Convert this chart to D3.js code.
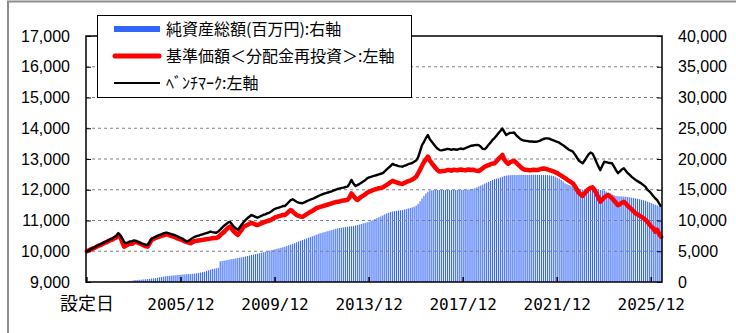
<!DOCTYPE html>
<html>
<head>
<meta charset="utf-8">
<script src="https://cdn.jsdelivr.net/npm/d3@7"></script>
<style>
  html, body { margin: 0; padding: 0; background: #fff; }
  svg { display: block; }
</style>
</head>
<body>
<svg id="chart" width="736" height="333"></svg>
<script>
// First month of the series (設定日) and the labelled x-axis months
const startYear = 2001, startMonth = 12;
const tickMonths = ["2001/12", "2005/12", "2009/12", "2013/12", "2017/12", "2021/12", "2025/12"];
const tickLabels = ["設定日", "2005/12", "2009/12", "2013/12", "2017/12", "2021/12", "2025/12"];
const leftTicks = [9000, 10000, 11000, 12000, 13000, 14000, 15000, 16000, 17000];
const rightTicks = [0, 5000, 10000, 15000, 20000, 25000, 30000, 35000, 40000];

// 基準価額<分配金再投資> (円), monthly
const navValues = [
  10000,
  10030,10060,10090,10110,10150,10180,10200,10240,10270,10290,10330,10360,
  10380,10420,10450,10530,10470,10300,10150,10180,10220,10250,10240,10280,
  10310,10280,10250,10220,10190,10160,10150,10260,10370,10400,10430,10460,
  10480,10500,10520,10540,10550,10520,10500,10480,10460,10420,10400,10380,
  10350,10320,10300,10280,10260,10300,10330,10340,10350,10360,10370,10380,
  10390,10400,10410,10420,10430,10430,10460,10520,10580,10630,10700,10760,
  10800,10720,10640,10580,10530,10620,10700,10800,10830,10860,10900,10920,
  10900,10870,10850,10880,10910,10930,10960,10980,11000,11020,11060,11100,
  11120,11140,11160,11180,11180,11230,11290,11340,11290,11230,11180,11150,
  11130,11120,11160,11200,11240,11280,11310,11350,11400,11420,11440,11460,
  11480,11500,11520,11540,11560,11580,11600,11610,11620,11640,11650,11660,
  11670,11750,11880,11800,11720,11670,11720,11770,11810,11850,11900,11940,
  11960,11990,12010,12030,12050,12060,12080,12120,12160,12200,12250,12290,
  12260,12240,12220,12200,12190,12220,12250,12280,12300,12330,12370,12420,
  12530,12650,12780,12900,12990,13080,12950,12860,12780,12700,12630,12590,
  12600,12610,12620,12640,12640,12620,12650,12640,12630,12650,12660,12640,
  12630,12650,12660,12640,12650,12630,12620,12610,12650,12700,12750,12780,
  12800,12830,12850,12860,12920,13000,13060,13130,12980,12900,12840,12900,
  12920,12940,12880,12820,12760,12700,12660,12650,12640,12630,12640,12650,
  12640,12640,12660,12680,12690,12680,12660,12640,12620,12600,12570,12540,
  12500,12460,12420,12380,12330,12290,12250,12210,12120,12010,11900,11850,
  11800,11880,11960,12020,12060,12080,12000,11880,11740,11610,11680,11750,
  11800,11830,11780,11720,11650,11570,11500,11530,11580,11610,11550,11480,
  11420,11360,11300,11230,11200,11160,11120,11070,11020,10960,10880,10800,
  10750,10640,10700,10560,10470
];

// ベンチマーク, monthly
const benchmarkValues = [
  10000,
  10030,10070,10100,10130,10170,10200,10230,10260,10300,10330,10360,10400,
  10420,10460,10500,10590,10520,10420,10300,10260,10290,10320,10330,10350,
  10330,10300,10280,10250,10230,10210,10200,10300,10410,10440,10470,10500,
  10530,10550,10580,10600,10600,10580,10560,10540,10520,10490,10460,10430,
  10400,10350,10310,10350,10390,10430,10470,10490,10510,10530,10550,10570,
  10590,10610,10640,10620,10610,10600,10640,10700,10770,10830,10880,10930,
  10960,10880,10800,10740,10690,10780,10870,10950,11020,11080,11130,11180,
  11150,11120,11090,11120,11150,11180,11200,11230,11250,11290,11340,11380,
  11400,11420,11440,11470,11470,11530,11600,11660,11690,11650,11610,11580,
  11570,11560,11590,11620,11650,11680,11700,11730,11760,11790,11820,11850,
  11870,11890,11910,11930,11950,11980,12000,12030,12040,12060,12070,12090,
  12100,12200,12320,12200,12120,12150,12190,12230,12270,12310,12370,12400,
  12420,12440,12460,12480,12500,12520,12540,12600,12660,12720,12780,12840,
  12810,12790,12770,12760,12750,12780,12800,12830,12850,12870,12910,12950,
  13050,13250,13450,13560,13680,13780,13640,13560,13480,13400,13330,13290,
  13280,13300,13310,13330,13320,13300,13320,13310,13300,13330,13340,13320,
  13350,13380,13400,13430,13440,13450,13460,13450,13400,13330,13320,13380,
  13460,13540,13620,13680,13760,13840,13910,13990,13880,13780,13820,13850,
  13850,13860,13780,13720,13660,13620,13600,13590,13580,13570,13570,13560,
  13560,13570,13590,13620,13650,13670,13670,13660,13630,13610,13580,13560,
  13530,13490,13450,13400,13350,13300,13270,13240,13150,13050,12950,12900,
  12860,12950,13050,13150,13210,13180,13050,12900,12760,12640,12780,12910,
  12900,12880,12870,12860,12750,12640,12540,12600,12660,12700,12620,12540,
  12480,12420,12370,12320,12280,12240,12200,12150,12100,12000,11950,11880,
  11800,11720,11660,11560,11450
];

// 純資産総額 (百万円), monthly
const netAssets = [
  10,
  15,20,25,30,35,40,45,50,55,60,65,70,
  75,80,85,90,95,100,110,120,130,150,200,300,
  320,340,360,390,420,450,480,520,560,600,650,700,
  760,820,880,930,975,1000,1030,1060,1090,1120,1150,1180,
  1210,1240,1270,1290,1300,1340,1380,1430,1480,1540,1600,1660,
  1780,1900,2000,2100,2170,2230,2300,3350,3420,3480,3540,3600,
  3660,3720,3780,3840,3900,3960,4020,4090,4160,4230,4310,4390,
  4450,4520,4600,4680,4760,4840,4920,5000,5080,5160,5240,5320,
  5400,5480,5560,5650,5740,5850,5960,6080,6200,6330,6460,6590,
  6710,6830,6950,7070,7190,7310,7430,7550,7680,7800,7920,8010,
  8100,8190,8280,8370,8460,8550,8640,8730,8780,8830,8880,8930,
  8980,9030,9060,9100,9180,9260,9340,9430,9520,9610,9700,9800,
  9930,10080,10230,10380,10530,10680,10830,11000,11170,11280,11380,11460,
  11520,11570,11620,11660,11700,11780,11860,11950,12040,12140,12240,12400,
  12700,13100,13600,14000,14400,14680,14850,14920,14950,14960,14960,14970,
  14960,14970,14960,14950,14960,14970,14980,14970,14960,14980,14990,15000,
  15000,15020,15050,15080,15150,15250,15380,15520,15680,15840,16000,16150,
  16300,16450,16600,16730,16800,16860,16980,17100,17240,17300,17350,17380,
  17400,17410,17380,17400,17420,17430,17420,17410,17400,17420,17430,17440,
  17430,17420,17410,17400,17400,17390,17380,17350,17300,17240,17130,16950,
  16800,16600,16350,16050,15900,15780,15680,15590,15500,15380,15250,15100,
  15020,14960,14980,15010,15030,15050,15040,15020,15000,14960,14900,14850,
  14700,14550,14400,14250,14120,13990,13950,13930,13920,13900,13870,13820,
  13760,13700,13650,13600,13530,13450,13380,13300,13220,13060,12950,12850,
  12700,12580,12460,12340,12240
];

// Month keys "YYYY/MM" for each observation
const months = navValues.map((_, i) => {
  const t = startYear * 12 + (startMonth - 1) + i;
  return `${Math.floor(t / 12)}/${String((t % 12) + 1).padStart(2, "0")}`;
});

const svg = d3.select("#chart");
const W = 736, H = 333;
const plot = { left: 86, right: 662, top: 36, bottom: 282 };

const x = d3.scaleBand().domain(months).range([plot.left, plot.right]).paddingInner(0.45).paddingOuter(0.2);
const xc = m => x(m) + x.bandwidth() / 2;
const yL = d3.scaleLinear().domain([9000, 17000]).range([plot.bottom, plot.top]);
const yR = d3.scaleLinear().domain([0, 40000]).range([plot.bottom, plot.top]);

// outer frame (left and top edges)
svg.append("path")
  .attr("d", `M8,${H} V1.5 H${W}`)
  .attr("fill", "none").attr("stroke", "#8c8c8c").attr("stroke-width", 2);

// net assets bars
svg.append("g").selectAll("rect")
  .data(netAssets)
  .join("rect")
  .attr("x", (d, i) => x(months[i]))
  .attr("width", x.bandwidth())
  .attr("y", d => yR(d))
  .attr("height", d => yR(0) - yR(d))
  .attr("fill", "#3366ff");

// dashed gridlines
svg.append("g").selectAll("line")
  .data(leftTicks.slice(1, -1))
  .join("line")
  .attr("x1", plot.left).attr("x2", plot.right)
  .attr("y1", d => yL(d)).attr("y2", d => yL(d))
  .attr("stroke", "#808080").attr("stroke-width", 1).attr("stroke-dasharray", "3,3");

// lines
const lineL = d3.line().x((d, i) => xc(months[i])).y(d => yL(d));
svg.append("path").datum(navValues)
  .attr("d", lineL).attr("fill", "none")
  .attr("stroke", "#ff0000").attr("stroke-width", 4.5)
  .attr("stroke-linejoin", "round").attr("stroke-linecap", "round");
svg.append("path").datum(benchmarkValues)
  .attr("d", lineL).attr("fill", "none")
  .attr("stroke", "#000").attr("stroke-width", 2.4)
  .attr("stroke-linejoin", "round");

// plot frame
svg.append("rect")
  .attr("x", plot.left).attr("y", plot.top)
  .attr("width", plot.right - plot.left).attr("height", plot.bottom - plot.top)
  .attr("fill", "none").attr("stroke", "#000").attr("stroke-width", 1.5);

// axes
const fmt = d3.format(",");
const axisFont = "'Liberation Sans', Arial, sans-serif";

const gL = svg.append("g").attr("transform", `translate(${plot.left},0)`)
  .call(d3.axisLeft(yL).tickValues(leftTicks).tickFormat(fmt).tickSizeInner(-5).tickSizeOuter(0).tickPadding(16));
const gR = svg.append("g").attr("transform", `translate(${plot.right},0)`)
  .call(d3.axisRight(yR).tickValues(rightTicks).tickFormat(fmt).tickSizeInner(-5).tickSizeOuter(0).tickPadding(16));
[gL, gR].forEach(g => {
  g.select(".domain").remove();
  g.selectAll(".tick line").attr("stroke", "#000");
  g.selectAll("text").attr("font-family", axisFont).attr("font-size", 16).attr("fill", "#000");
});

const gX = svg.append("g").attr("transform", `translate(0,${plot.bottom})`)
  .call(d3.axisBottom(x).tickValues(tickMonths)
    .tickFormat(m => tickLabels[tickMonths.indexOf(m)])
    .tickSizeInner(-5).tickSizeOuter(0).tickPadding(17));
gX.select(".domain").remove();
gX.selectAll(".tick line").attr("stroke", "#000").attr("stroke-width", 1.5);
gX.selectAll("text")
  .attr("font-family", "'DejaVu Sans Mono', 'Noto Sans CJK JP', monospace")
  .attr("font-size", 16).attr("fill", "#000");
gX.selectAll(".tick").filter(m => m === tickMonths[0]).select("text")
  .attr("font-family", "'Noto Sans CJK JP', sans-serif").attr("font-size", 18)
  .attr("dy", "0.6em");

// legend
const legend = svg.append("g");
legend.append("rect")
  .attr("x", 97.5).attr("y", 15.5).attr("width", 314).attr("height", 82)
  .attr("fill", "#fff").attr("stroke", "#000").attr("stroke-width", 1);
const legendItems = [
  { label: "純資産総額(百万円):右軸", kind: "bar" },
  { label: "基準価額＜分配金再投資＞:左軸", kind: "nav" },
  { label: "ﾍﾞﾝﾁﾏｰｸ:左軸", kind: "bench" }
];
legendItems.forEach((it, k) => {
  const cy = 29 + k * 27;
  if (it.kind === "bar") {
    legend.append("rect").attr("x", 114).attr("y", cy - 3).attr("width", 46).attr("height", 6).attr("fill", "#3366ff");
  } else if (it.kind === "nav") {
    legend.append("line").attr("x1", 115).attr("x2", 159).attr("y1", cy).attr("y2", cy)
      .attr("stroke", "#ff0000").attr("stroke-width", 5).attr("stroke-linecap", "round");
  } else {
    legend.append("line").attr("x1", 114).attr("x2", 160).attr("y1", cy).attr("y2", cy)
      .attr("stroke", "#000").attr("stroke-width", 2);
  }
  legend.append("text").attr("x", 166).attr("y", cy).attr("dy", "0.36em")
    .attr("font-family", "'Noto Sans CJK JP', sans-serif").attr("font-size", 16).attr("fill", "#000")
    .text(it.label);
});
</script>
</body>
</html>
